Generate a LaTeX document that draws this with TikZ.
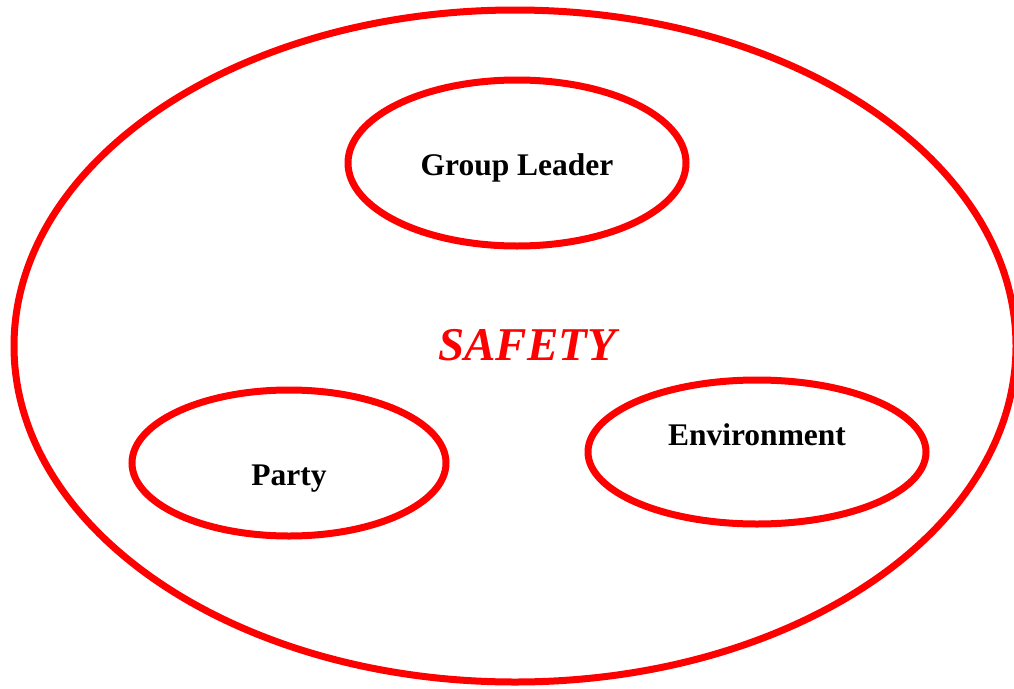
\documentclass[tikz,border=0pt]{standalone}
\usepackage{fontspec}
\setmainfont{Liberation Serif}
\usetikzlibrary{positioning}

\definecolor{ringred}{RGB}{255,0,0}

\begin{document}
\begin{tikzpicture}[x=1pt,y=-1pt,
    ring/.style={draw=ringred, line width=7pt},
    label/.style={font=\fontsize{31.5}{36}\selectfont\bfseries, text=black, inner sep=0pt}]
\useasboundingbox (0,0) rectangle (1014,688);

% outer safety ring
\draw[ring] (515,346) ellipse [x radius=501, y radius=336];
\node[font=\fontsize{47}{54}\selectfont\bfseries\itshape, text=ringred, inner sep=0pt] (safety) at (527,345) {SAFETY};

% the three inner rings
\draw[ring] (517,163) ellipse [x radius=169, y radius=83];
\node[label] (leader) at (517,168) {Group\ Leader};

\draw[ring] (289,463) ellipse [x radius=157, y radius=73];
\node[label] (party) at (289,479) {Party};

\draw[ring] (757,452) ellipse [x radius=169, y radius=72];
\node[label] (environment) at (757,435) {Environment};

\end{tikzpicture}
\end{document}
